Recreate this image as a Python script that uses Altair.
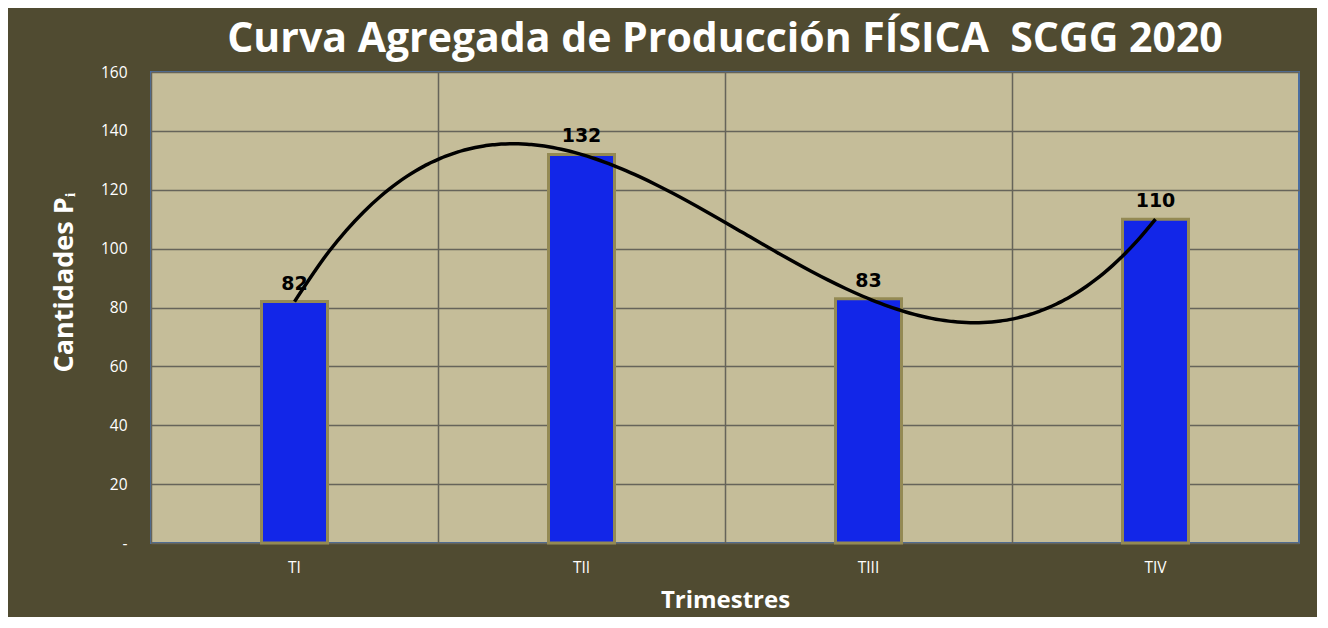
import altair as alt
import pandas as pd

trimestres = ["TI", "TII", "TIII", "TIV"]
valores = [82, 132, 83, 110]
indices = [0, 1, 2, 3]

df = pd.DataFrame({"trim": trimestres, "val": valores, "idx": indices})

BG = "#504b31"
PLOT = "#c5bd99"
GRID = "#66645a"

base = alt.Chart(df)

y_axis = alt.Axis(values=[0, 20, 40, 60, 80, 100, 120, 140, 160],
                  labelExpr="datum.value == 0 ? '-' : datum.label",
                  ticks=False, domain=False, labelPadding=24, titlePadding=22,
                  labelColor="white", labelFont="Open Sans", labelFontSize=15.5,
                  titleColor="white", titleFont="Open Sans", titleFontSize=27,
                  titleFontWeight="bold", titleY=210,
                  grid=True, gridColor=GRID, gridWidth=1.5)

bars = base.mark_bar(
    size=66, color="#1226e8", stroke="#948a54", strokeWidth=3
).encode(
    x=alt.X("trim:N", sort=trimestres, title="Trimestres",
            scale=alt.Scale(paddingInner=0, paddingOuter=0),
            axis=alt.Axis(labelAngle=0, grid=True, bandPosition=0, ticks=False,
                          domain=False, labelPadding=17, titlePadding=13,
                          labelColor="white", labelFont="Open Sans", labelFontSize=15.5,
                          titleColor="white", titleFont="Open Sans", titleFontSize=24,
                          titleFontWeight="bold", gridColor=GRID, gridWidth=1.5)),
    y=alt.Y("val:Q", title="Cantidades Pᵢ",
            scale=alt.Scale(domain=[0, 160], nice=False), axis=y_axis),
)

labels = base.mark_text(
    baseline="bottom", dy=-8, font="DejaVu Sans", fontWeight="bold",
    fontSize=19, color="black"
).encode(
    x=alt.X("trim:N", sort=trimestres),
    y=alt.Y("val:Q", axis=y_axis),
    text=alt.Text("val:Q"),
)

bar_layer = alt.layer(bars, labels)

curve = base.transform_regression(
    "idx", "val", method="poly", order=3
).mark_line(color="black", strokeWidth=3.5, interpolate="monotone").encode(
    x=alt.X("idx:Q", scale=alt.Scale(domain=[-0.5, 3.5], nice=False, zero=False), axis=None),
    y=alt.Y("val:Q", scale=alt.Scale(domain=[0, 160], nice=False), axis=y_axis),
)

chart = alt.layer(bar_layer, curve).resolve_scale(x="independent").properties(
    width=1148,
    height=471,
    autosize=alt.AutoSizeParams(type="none"),
    padding={"left": 143, "top": 64, "right": 18, "bottom": 74},
    background=BG,
    title=alt.TitleParams(
        "Curva Agregada de Producción FÍSICA\u00a0\u00a0SCGG 2020",
        font="Open Sans", fontSize=41, fontWeight="bold", color="white",
        anchor="middle", offset=14, baseline="alphabetic", dy=42,
    ),
).configure_view(
    fill=PLOT, stroke="#4a6ea0", strokeWidth=2
)

chart.save("out.html", embed_options={"renderer": "svg", "actions": False})
